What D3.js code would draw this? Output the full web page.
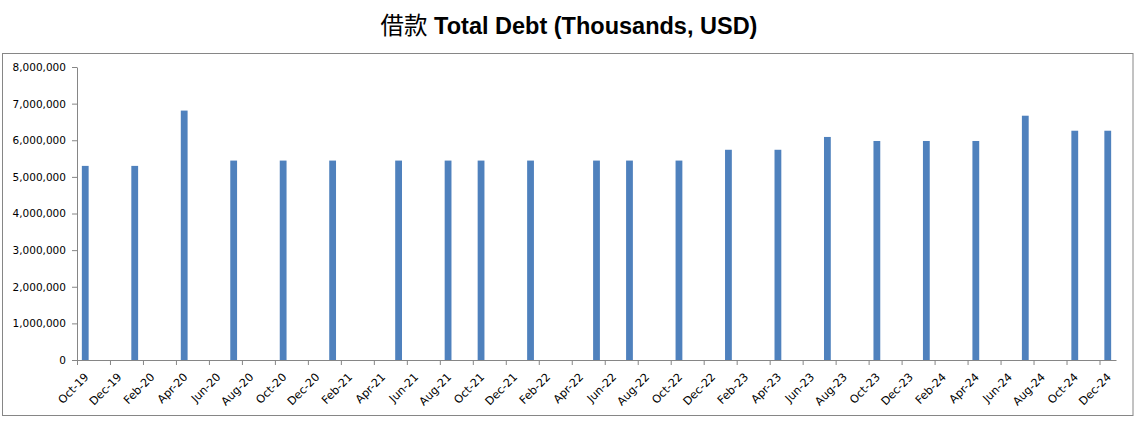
<!DOCTYPE html>
<html>
<head>
<meta charset="utf-8">
<script src="https://cdn.jsdelivr.net/npm/d3@7"></script>
<style>
  html, body { margin: 0; padding: 0; background: #fff; }
  svg { display: block; }
</style>
</head>
<body>
<svg id="chart" width="1143" height="423"></svg>
<script>
// ---- data ----
const title = "借款 Total Debt (Thousands, USD)";
const monthNames = ["Jan","Feb","Mar","Apr","May","Jun","Jul","Aug","Sep","Oct","Nov","Dec"];
// every month on the date axis, Oct-19 .. Dec-24
const months = [];
for (let yr = 2019; yr <= 2024; yr++) {
  for (let m = 0; m < 12; m++) {
    if (yr === 2019 && m < 9) continue;
    months.push(monthNames[m] + "-" + String(yr).slice(2));
  }
}
const barMonths = ["Oct-19","Jan-20","Apr-20","Jul-20","Oct-20","Jan-21","May-21","Aug-21","Oct-21","Jan-22","May-22","Jul-22","Oct-22","Jan-23","Apr-23","Jul-23","Oct-23","Jan-24","Apr-24","Jul-24","Oct-24","Dec-24"];
const debtValues = [5300000,5300000,6810000,5445000,5445000,5445000,5445000,5445000,5445000,5445000,5445000,5445000,5445000,5740000,5740000,6090000,5980000,5980000,5980000,6670000,6260000,6260000];
const yTicks = [0,1000000,2000000,3000000,4000000,5000000,6000000,7000000,8000000];
const xTickMonths = months.filter((d, i) => i % 2 === 0);

// ---- layout ----
const svg = d3.select("#chart");
const plotLeft = 77, plotRight = 1116, plotTop = 67, plotBottom = 360;

svg.append("rect")
  .attr("x", 2.5).attr("y", 53.5)
  .attr("width", 1130.5).attr("height", 362)
  .attr("fill", "#fff").attr("stroke", "#868686").attr("stroke-width", 1);

svg.append("text")
  .attr("x", 569).attr("y", 34)
  .attr("text-anchor", "middle")
  .attr("fill", "#000")
  .style("font-family", "'Liberation Sans', Arial, sans-serif")
  .style("font-size", "23.5px")
  .style("font-weight", "bold")
  .call(t => {
    t.append("tspan").text(title.split(" ")[0])
      .style("font-family", "'Noto Sans CJK SC', sans-serif")
      .style("font-weight", "normal");
    t.append("tspan").text(" " + title.split(" ").slice(1).join(" "));
  });

// scales
const xIdx = d3.scaleLinear().domain([0, months.length]).range([plotLeft, plotRight]);
const y = d3.scaleLinear().domain([0, 8000000]).range([plotBottom, plotTop]);
const barW = 6.8;

// bars
svg.append("g").selectAll("rect")
  .data(barMonths.map((m, i) => ({ m, v: debtValues[i] })))
  .join("rect")
  .attr("x", d => xIdx(months.indexOf(d.m) + 0.5) - barW / 2)
  .attr("y", d => y(d.v))
  .attr("width", barW)
  .attr("height", d => y(0) - y(d.v))
  .attr("fill", "#4F81BD");

// y axis
const yAxis = svg.append("g")
  .attr("transform", `translate(${plotLeft},0)`)
  .call(d3.axisLeft(y).tickValues(yTicks).tickFormat(d3.format(",")).tickSize(5).tickSizeOuter(0).tickPadding(6));
yAxis.selectAll("path, line").attr("stroke", "#868686");
yAxis.selectAll("text")
  .attr("fill", "#000")
  .style("font-family", "'DejaVu Sans', Verdana, sans-serif")
  .style("font-size", "10.5px");

// x axis
const xAxis = svg.append("g")
  .attr("transform", `translate(0,${plotBottom})`)
  .call(d3.axisBottom(xIdx)
    .tickValues(xTickMonths.map(m => months.indexOf(m)))
    .tickFormat(i => months[i])
    .tickSize(5).tickSizeOuter(0));
xAxis.selectAll("path, line").attr("stroke", "#868686");
xAxis.selectAll("text")
  .attr("fill", "#000")
  .style("font-family", "'DejaVu Sans', Verdana, sans-serif")
  .style("font-size", "11.2px")
  .attr("text-anchor", "end")
  .attr("dy", "0.35em")
  .attr("y", 0)
  .attr("transform", "translate(9,15) rotate(-45)");
</script>
</body>
</html>
